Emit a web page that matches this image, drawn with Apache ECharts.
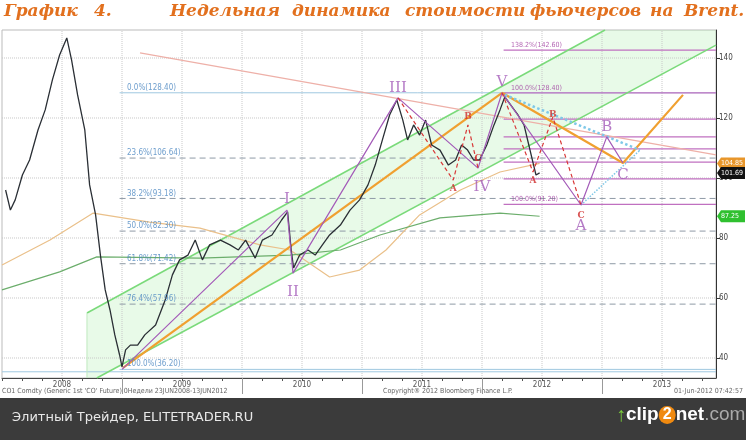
<!DOCTYPE html>
<html><head><meta charset="utf-8">
<script src="https://cdn.jsdelivr.net/npm/echarts@6/dist/echarts.min.js"></script>
<style>html,body{margin:0;padding:0;background:#fff}#c{width:746px;height:440px}</style>
</head><body><div id="c"></div>
<script>
// ---- data (x in decimal years, y in USD) ----
const price = [[2008.03,96],[2008.07,89.3],[2008.11,92.7],[2008.17,101],[2008.23,106],[2008.30,116],[2008.36,122.7],[2008.42,132.7],[2008.48,141],[2008.54,146.7],[2008.58,139.3],[2008.63,127.7],[2008.69,116],[2008.73,97.7],[2008.78,87.7],[2008.82,74.3],[2008.86,62.7],[2008.90,56],[2008.94,47.7],[2008.98,41],[2009.00,37],[2009.03,42.7],[2009.07,44.3],[2009.13,44.3],[2009.19,47.7],[2009.28,51],[2009.36,59.3],[2009.42,67.7],[2009.48,72.7],[2009.55,74.3],[2009.61,79.3],[2009.67,72.7],[2009.73,77.7],[2009.82,79.3],[2009.90,77.7],[2009.97,76],[2010.03,79.3],[2010.11,73.3],[2010.17,79.3],[2010.25,81],[2010.33,86],[2010.38,88.7],[2010.41,76],[2010.43,70],[2010.48,74.3],[2010.55,76],[2010.61,74.3],[2010.67,77.7],[2010.73,81],[2010.82,84.3],[2010.90,89.3],[2010.98,92.7],[2011.05,97.7],[2011.11,104.3],[2011.17,112.7],[2011.23,121],[2011.29,126],[2011.34,119.3],[2011.38,112.7],[2011.43,117.7],[2011.48,114.3],[2011.53,119.3],[2011.58,111],[2011.65,109.3],[2011.72,104.3],[2011.78,106],[2011.83,111],[2011.88,109.3],[2011.93,106],[2011.98,106],[2012.04,111],[2012.10,117.7],[2012.15,122.7],[2012.19,127],[2012.24,124.3],[2012.30,121],[2012.35,117.7],[2012.39,111],[2012.43,104.3],[2012.45,101],[2012.48,101.7]];
const maSlow = [[2008.0,71],[2008.4,79.3],[2008.76,88.3],[2009.23,85.3],[2009.65,83.3],[2010.15,77.7],[2010.4,76],[2010.73,67],[2010.98,69.3],[2011.2,76],[2011.48,87.7],[2011.82,96],[2012.15,102],[2012.48,104.85]];
const maGreen = [[2008.0,62.7],[2008.48,68.7],[2008.79,73.7],[2009.65,73.3],[2010.4,74.3],[2010.82,76],[2011.15,81],[2011.65,86.7],[2012.15,88.3],[2012.48,87.25]];
const fibLevels = [128.40,106.64,93.18,82.30,71.42,57.96,36.20];
const fibLabels = ['0.0%(128.40)','23.6%(106.64)','38.2%(93.18)','50.0%(82.30)','61.8%(71.42)','76.4%(57.96)','100.0%(36.20)'];
const extLevels = [142.60,128.40,119.6,113.7,109.7,105.3,99.7,91.2];
const extLabels = ['138.2%(142.60)','100.0%(128.40)','','','','','','100.0%(91.20)'];
const waveMain = [[2009.0,36.2],[2010.375,89.3],[2010.425,68.3],[2011.30,126.7],[2011.967,103.3],[2012.167,128.4],[2012.825,91.0],[2013.04,113.7],[2013.175,105]];
const waveRed1 = [[2011.30,126.7],[2011.76,99.3],[2011.883,117.7],[2011.967,103.3]];
const waveRed2 = [[2012.167,128.4],[2012.425,102],[2012.59,120.3],[2012.825,91.0]];
const orangeTrend = [[2009.008,36.7],[2012.167,128.4]];
const orangeFore = [[2012.167,128.4],[2013.175,105],[2013.675,127.7]];
const blueDot1 = [[2012.19,127.7],[2013.317,109.3]];
const blueDot2 = [[2012.825,91.0],[2013.317,109.3]];
const pinkLine = [[2009.15,141.7],[2013.95,107.7]];
const chanUpper = [[2008.708,55],[2013.025,149.33]];
const chanLower = [[2008.79,33.33],[2013.95,144.3]];
const chanFill = [[2008.708,55],[2013.025,149.33],[2013.95,149.33],[2013.95,144.3],[2008.79,33.33],[2008.708,33.33]];
const romanLabels = [['I',2010.375,93],['II',2010.425,62],['III',2011.30,130],['IV',2012.0,97],['V',2012.167,132],['A',2012.825,84],['B',2013.04,117],['C',2013.175,101]];
const redLabels = [['A',2011.76,96.5],['B',2011.883,120.5],['C',2011.967,106.5],['A',2012.425,99],['B',2012.59,121],['C',2012.825,87.5]];
const tags = [[104.85,'104.85','#e8962a','#fff'],[101.69,'101.69','#111','#fff'],[87.25,'87.25','#2fc02f','#fff']];
const yLabels = [40,60,80,100,120,140];
const yearLabels = [2008.5,2009.5,2010.5,2011.5,2012.5,2013.5];
const yearBounds = [2009,2010,2011,2012,2013];

const X0=2008, X1=2013.95, Y0=33.33, Y1=149.33;
const lineS = (data,color,width,type,z)=>({type:'line',data,showSymbol:false,symbol:'none',silent:true,
  lineStyle:{color,width,type:type||'solid'},z:z||3,animation:false});
const hSeg = (x0,v,color,type,w)=>lineS([[x0,v],[X1,v]],color,w||1,type,2);

const series = [];
series.push({type:'custom',renderItem:(p,api)=>({type:'polygon',shape:{points:chanFill.map(d=>api.coord(d))},
  style:{fill:'rgba(150,230,150,0.22)'}}),data:[0],z:1,silent:true,animation:false});
yLabels.forEach(v=>series.push(lineS([[X0,v],[X1,v]],'#c8c8c8',1,'dotted',1)));
for(let y=2008.5;y<2014;y+=0.5) series.push(lineS([[y,Y0],[y,Y1]],'#c8c8c8',1,'dotted',1));
fibLevels.forEach((v,i)=>{
  const solid = (i===0||i===6);
  series.push(hSeg(2008.98,v,solid?'#9fc8e0':'#8f9aa6',solid?'solid':[6,4],1));
});
series.push({type:'scatter',symbolSize:0,silent:true,z:6,animation:false,
  data:fibLevels.map((v,i)=>({value:[2009.0,v],label:{show:true,position:'right',offset:[0,-5],formatter:fibLabels[i],color:'#4a86c0',fontSize:8,fontFamily:'DejaVu Sans Condensed'}}))});
extLevels.forEach(v=>series.push(hSeg(2012.18,v,'#c070c0','solid',1.2)));
series.push({type:'scatter',symbolSize:0,silent:true,z:6,animation:false,
  data:extLevels.map((v,i)=>({value:[2012.2,v],label:{show:!!extLabels[i],position:'right',offset:[0,-5],formatter:extLabels[i],color:'#a040a0',fontSize:7,fontFamily:'DejaVu Sans Condensed'}}))});
series.push(lineS([[2008.0,35.4],[X1,35.4]],'#9fc8e0',1,'solid',1));
series.push(lineS(chanUpper,'#7ada7a',1.5));
series.push(lineS(chanLower,'#7ada7a',1.5));
series.push(lineS([[2008.708,55],[2008.708,33.33]],'#bfe9bf',1));
series.push(lineS(pinkLine,'#eeb0a8',1.2));
series.push(lineS(maSlow,'#eac08a',1.2));
series.push(lineS(maGreen,'#6cae6c',1.2));
series.push(lineS(orangeTrend,'#f0a030',2.2,'solid',4));
series.push(lineS(orangeFore,'#f0a030',2.2,'solid',4));
series.push(lineS(blueDot1,'#7fc8e8',2.5,'dotted',4));
series.push(lineS(blueDot2,'#7fc8e8',1.5,'dotted',4));
series.push(lineS(price,'#2a2f35',1.3,'solid',5));
series.push(lineS(waveMain,'#a35ab8',1.2,'solid',6));
series.push(lineS(waveRed1,'#d83838',1.2,[4,3],6));
series.push(lineS(waveRed2,'#d83838',1.2,[4,3],6));
series.push({type:'scatter',symbolSize:0,silent:true,z:7,animation:false,
  data:romanLabels.map(r=>({value:[r[1],r[2]],label:{show:true,position:'inside',formatter:r[0],color:'#a35ab8',fontSize:15,fontFamily:'DejaVu Serif'}}))});
series.push({type:'scatter',symbolSize:0,silent:true,z:7,animation:false,
  data:redLabels.map(r=>({value:[r[1],r[2]],label:{show:true,position:'inside',formatter:r[0],color:'#d02a2a',fontSize:9,fontWeight:'bold',fontFamily:'DejaVu Serif'}}))});
series.push({type:'custom',silent:true,z:10,animation:false,clip:false,data:tags.map(t=>[X1,t[0]]),
  renderItem:(p,api)=>{const t=tags[p.dataIndex];const c=api.coord([X1,t[0]]);const x=c[0]+1,y=c[1];
    return {type:'group',children:[
      {type:'polygon',shape:{points:[[x,y],[x+4,y-6],[x+28,y-6],[x+28,y+6],[x+4,y+6]]},style:{fill:t[2]}},
      {type:'text',style:{x:x+4,y:y,text:t[1],fill:t[3],fontSize:7,fontFamily:'DejaVu Sans Condensed',verticalAlign:'middle'}}]};}});

const ticks6=[];for(let y=2008;y<=2013.95;y+=1/6)ticks6.push(+y.toFixed(3));
const opt = {
  animation:false,
  grid:{left:2,right:30,top:30,bottom:62,show:true,borderColor:'#bbb',borderWidth:1,backgroundColor:'#fff'},
  xAxis:[{type:'value',min:X0,max:X1,splitLine:{show:false},axisLine:{lineStyle:{color:'#444'}},
     axisTick:{customValues:ticks6,length:3,lineStyle:{color:'#555'}},
     axisLabel:{customValues:yearLabels,formatter:v=>String(Math.floor(v)),color:'#555',fontSize:8,margin:3,fontFamily:'DejaVu Sans Condensed'}},
    {type:'value',min:X0,max:X1,position:'bottom',axisLine:{show:false},splitLine:{show:false},
     axisTick:{show:true,customValues:yearBounds,length:16,lineStyle:{color:'#999'}},axisLabel:{show:false}}],
  yAxis:{type:'value',position:'right',min:Y0,max:Y1,splitLine:{show:false},
     axisLine:{show:true,lineStyle:{color:'#333'}},
     axisTick:{show:true,customValues:yLabels,length:4,inside:false,lineStyle:{color:'#333'}},
     axisLabel:{customValues:yLabels,color:'#444',fontSize:8,margin:3,fontFamily:'DejaVu Sans Condensed'}},
  series,
  graphic:[
    {type:'rect',left:0,top:398,shape:{width:746,height:42},style:{fill:'#3b3b3b'}},
    {type:'text',left:12,top:411,style:{text:'Элитный Трейдер, ELITETRADER.RU',fill:'#e8e8e8',fontSize:13,fontFamily:'DejaVu Sans'}},
    {type:'text',left:616,top:405,style:{text:'{a|↑}{b|clip}{c|2}{b|net}{d|.com}',rich:{a:{fill:'#7acb3a',fontSize:20,fontWeight:'bold'},b:{fill:'#fff',fontSize:19,fontWeight:'bold',fontFamily:'Liberation Sans'},c:{fill:'#fff',backgroundColor:'#f08a10',borderRadius:10,padding:[1,4],fontSize:16,fontWeight:'bold'},d:{fill:'#aaa',fontSize:19,fontFamily:'Liberation Sans'}}}},
    {type:'text',left:2,top:388,style:{text:"CO1 Comdty (Generic 1st 'CO' Future) 0Недели 23JUN2008-13JUN2012",fill:'#666',fontSize:7,fontFamily:'DejaVu Sans Condensed'}},
    {type:'text',left:383,top:388,style:{text:'Copyright® 2012 Bloomberg Finance L.P.',fill:'#666',fontSize:7,fontFamily:'DejaVu Sans Condensed'}},
    {type:'text',right:3,top:388,style:{text:'01-Jun-2012 07:42:57',fill:'#666',fontSize:7,fontFamily:'DejaVu Sans Condensed'}},
    ...[['График',4],['4.',94],['Недельная',170],['динамика',292],['стоимости',405],['фьючерсов',530],['на',650],['Brent.',684]].map(w=>({type:'text',left:w[1],top:3,style:{text:w[0],fill:'#e2701e',fontSize:17,fontWeight:'bold',fontStyle:'italic',fontFamily:'DejaVu Serif'}}))
  ]
};
echarts.init(document.getElementById('c')).setOption(opt);
</script></body></html>
